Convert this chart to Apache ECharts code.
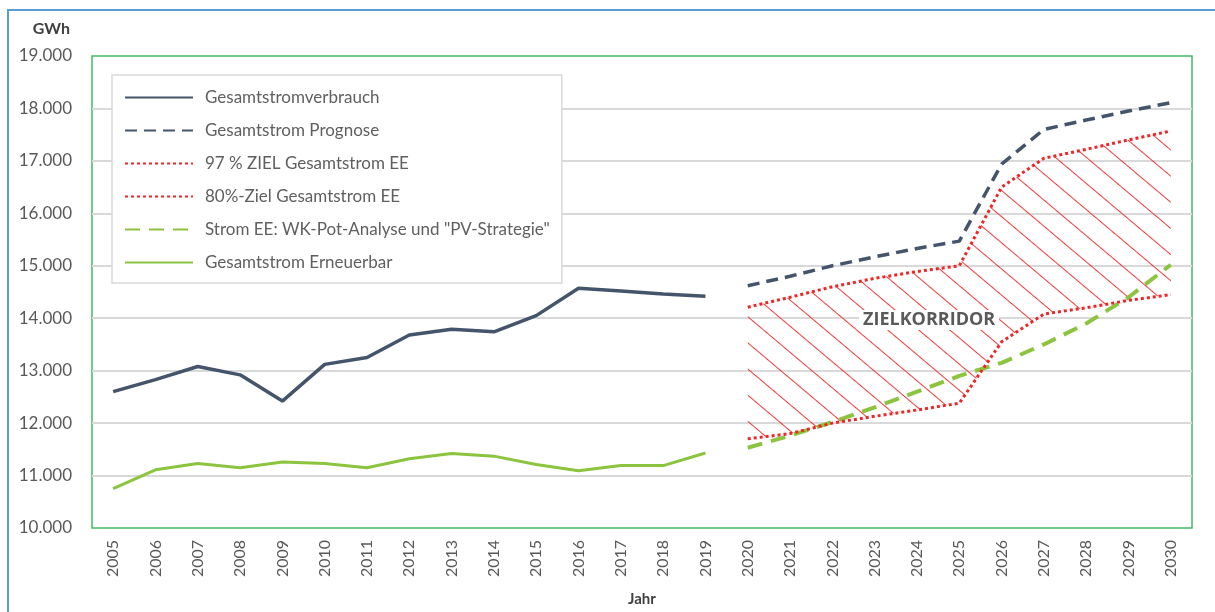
<!DOCTYPE html>
<html>
<head>
<meta charset="utf-8">
<script src="https://cdn.jsdelivr.net/npm/echarts@6/dist/echarts.min.js"></script>
<style>
  html, body { margin: 0; padding: 0; background: #fff; }
  #chart { width: 1215px; height: 612px; }
</style>
</head>
<body>
<div id="chart"></div>
<script>
// ---- data ----
const years = ['2005','2006','2007','2008','2009','2010','2011','2012','2013','2014','2015','2016','2017','2018','2019',
               '2020','2021','2022','2023','2024','2025','2026','2027','2028','2029','2030'];
const yTicks = [10000, 11000, 12000, 13000, 14000, 15000, 16000, 17000, 18000, 19000];
const verbrauch = [12600, 12830, 13080, 12920, 12420, 13120, 13250, 13680, 13790, 13740, 14050, 14570, 14520, 14460, 14420,
                   null, null, null, null, null, null, null, null, null, null, null];
const prognose = [null, null, null, null, null, null, null, null, null, null, null, null, null, null, null,
                  14620, 14800, 15000, 15170, 15330, 15470, 16940, 17600, 17780, 17950, 18110];
const ziel97 = [null, null, null, null, null, null, null, null, null, null, null, null, null, null, null,
                14210, 14400, 14600, 14760, 14890, 15000, 16500, 17050, 17220, 17400, 17570];
const ziel80 = [null, null, null, null, null, null, null, null, null, null, null, null, null, null, null,
                11700, 11800, 12000, 12130, 12250, 12380, 13550, 14080, 14200, 14340, 14450];
const wkPot = [null, null, null, null, null, null, null, null, null, null, null, null, null, null, null,
               11530, 11760, 12020, 12300, 12600, 12900, 13150, 13500, 13900, 14400, 15020];
const erneuerbar = [10750, 11110, 11230, 11150, 11260, 11230, 11150, 11320, 11420, 11370, 11210, 11090, 11190, 11190, 11430,
                    null, null, null, null, null, null, null, null, null, null, null];
const names = ['Gesamtstromverbrauch', 'Gesamtstrom Prognose', '97 % ZIEL Gesamtstrom EE', '80%-Ziel Gesamtstrom EE',
               'Strom EE: WK-Pot-Analyse und "PV-Strategie"', 'Gesamtstrom Erneuerbar'];

// band between the two target lines (for hatched corridor)
const bandDiff = ziel97.map((v, i) => (v == null || ziel80[i] == null) ? null : v - ziel80[i]);

const DARK = '#44546a', RED = '#ee2626', GREEN = '#8cc43f';
const FONT = 'Lato, "Open Sans", sans-serif';

const hatch = {
  symbol: 'rect', symbolSize: 1,
  dashArrayX: [1, 0], dashArrayY: [1, 19],
  rotation: 0.7,
  color: 'rgba(238,38,38,0.9)',
  backgroundColor: 'rgba(0,0,0,0)'
};

const chart = echarts.init(document.getElementById('chart'), null, { renderer: 'canvas' });
chart.setOption({
  animation: false,
  backgroundColor: '#fff',
  textStyle: { fontFamily: FONT },
  grid: { left: 92, right: 23, top: 56, bottom: 77, show: true, borderColor: '#45bb63', borderWidth: 1.5, backgroundColor: 'transparent' },
  legend: {
    left: 112, top: 75, orient: 'vertical',
    backgroundColor: '#fff', borderColor: '#d9d9d9', borderWidth: 1.5,
    padding: [14, 12, 12, 12],
    itemWidth: 68, itemHeight: 14, itemGap: 16,
    itemStyle: { opacity: 0 },
    textStyle: { fontFamily: FONT, fontSize: 17, color: '#5f5f5f', padding: [0, 0, 0, 7] },
    data: names
  },
  xAxis: {
    type: 'category', data: years, boundaryGap: true,
    axisLine: { show: false }, axisTick: { show: false },
    axisLabel: { rotate: 90, fontSize: 16, color: '#595959', margin: 12, fontFamily: FONT },
    name: 'Jahr', nameLocation: 'middle', nameGap: 64,
    nameTextStyle: { fontSize: 15, fontWeight: 'bold', color: '#404040', fontFamily: FONT }
  },
  yAxis: {
    type: 'value', min: yTicks[0], max: yTicks[yTicks.length - 1], interval: 1000,
    axisLine: { show: false }, axisTick: { show: false },
    splitLine: { showMinLine: false, showMaxLine: false, lineStyle: { color: '#d9d9d9', width: 2 } },
    axisLabel: {
      fontSize: 17, color: '#595959', margin: 20, fontFamily: FONT,
      formatter: v => (yTicks.indexOf(v) >= 0 ? (v / 1000) + '.000' : '')
    },
    name: 'GWh', nameLocation: 'end', nameGap: 19,
    nameTextStyle: { fontSize: 16, fontWeight: 'bold', color: '#404040', align: 'right', padding: [0, 22, 0, 0], fontFamily: FONT }
  },
  series: [
    { name: '_base', type: 'line', data: ziel80, stack: 'band', symbol: 'none', silent: true,
      lineStyle: { width: 0, opacity: 0 }, z: 1 },
    { name: '_band', type: 'line', data: bandDiff, stack: 'band', symbol: 'none', silent: true,
      lineStyle: { width: 0, opacity: 0, decal: hatch },
      itemStyle: { decal: hatch },
      areaStyle: { color: 'rgba(255,255,255,0)', opacity: 1 }, z: 1 },
    { name: names[0], type: 'line', data: verbrauch, symbol: 'none', color: DARK,
      lineStyle: { color: DARK, width: 3.5 }, z: 5 },
    { name: names[1], type: 'line', data: prognose, symbol: 'none', color: DARK,
      lineStyle: { color: DARK, width: 3.5, type: [12, 7] }, z: 5 },
    { name: names[2], type: 'line', data: ziel97, symbol: 'none', color: RED,
      lineStyle: { color: RED, width: 3, type: [3, 3] }, z: 5 },
    { name: names[3], type: 'line', data: ziel80, symbol: 'none', color: RED,
      lineStyle: { color: RED, width: 3, type: [3, 3] }, z: 5 },
    { name: names[4], type: 'line', data: wkPot, symbol: 'none', color: GREEN,
      lineStyle: { color: GREEN, width: 4, type: [15, 9] }, z: 4 },
    { name: names[5], type: 'line', data: erneuerbar, symbol: 'none', color: GREEN,
      lineStyle: { color: GREEN, width: 3 }, z: 5 }
  ],
  graphic: [
    { type: 'rect', shape: { x: 8, y: 10, width: 1400, height: 800 },
      style: { fill: 'none', stroke: '#5b9bd5', lineWidth: 2 }, silent: true, z: 0 },
    { type: 'text', left: 859, top: 310, z: 10,
      style: { text: 'ZIELKORRIDOR', font: 'bold 18px "Open Sans", sans-serif', fill: '#5a5a5a',
               backgroundColor: '#fff', padding: [1, 4, 1, 4] } }
  ]
});
</script>
</body>
</html>
